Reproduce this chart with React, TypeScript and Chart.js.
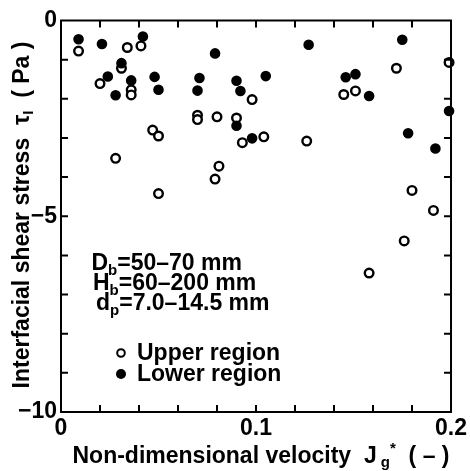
import React, { useEffect, useRef } from "react";
import { Chart, registerables } from "chart.js";

Chart.register(...registerables);

// Upper region (open circles)
const upperX = [0.009, 0.034, 0.041, 0.031, 0.020, 0.036, 0.036, 0.047, 0.050, 0.028, 0.050, 0.098, 0.070, 0.070, 0.080, 0.090, 0.093, 0.104, 0.126, 0.081, 0.079, 0.172, 0.199, 0.145, 0.151, 0.180, 0.191, 0.176, 0.158];
const upperY = [-0.78, -0.69, -0.65, -1.22, -1.61, -1.77, -1.90, -2.80, -2.95, -3.52, -4.42, -2.02, -2.42, -2.53, -2.46, -2.49, -3.12, -2.97, -3.08, -3.72, -4.05, -1.22, -1.07, -1.89, -1.80, -4.34, -4.85, -5.63, -6.45];

// Lower region (filled circles)
const lowerX = [0.009, 0.021, 0.042, 0.031, 0.024, 0.036, 0.028, 0.048, 0.050, 0.079, 0.127, 0.071, 0.070, 0.090, 0.092, 0.105, 0.090, 0.098, 0.175, 0.146, 0.151, 0.158, 0.199, 0.178, 0.192];
const lowerY = [-0.48, -0.60, -0.41, -1.09, -1.43, -1.53, -1.91, -1.44, -1.77, -0.84, -0.62, -1.47, -1.79, -1.54, -1.80, -1.42, -2.69, -3.01, -0.49, -1.45, -1.37, -1.93, -2.31, -2.88, -3.27];

const xTickLabels = [0, 0.1, 0.2];
const yTickLabels = [0, -5, -10];
const xMinorTicks = [0.02, 0.04, 0.06, 0.08, 0.1, 0.12, 0.14, 0.16, 0.18];
const yMinorTicks = [-1, -2, -3, -4, -5, -6, -7, -8, -9];

const legendLabels = ["Upper region", "Lower region"];
const FONT = '"Liberation Sans", Arial, Helvetica, sans-serif';

type Piece = { t: string; size: number; dy: number };

function drawPieces(ctx: CanvasRenderingContext2D, pieces: Piece[], x: number, y: number) {
  let cx = x;
  for (const p of pieces) {
    ctx.font = `bold ${p.size}px ${FONT}`;
    ctx.fillText(p.t, cx, y + p.dy);
    cx += ctx.measureText(p.t).width;
  }
  return cx;
}
function piecesWidth(ctx: CanvasRenderingContext2D, pieces: Piece[]) {
  let w = 0;
  for (const p of pieces) {
    ctx.font = `bold ${p.size}px ${FONT}`;
    w += ctx.measureText(p.t).width;
  }
  return w;
}

const decorPlugin = {
  id: "decor",
  afterDraw(chart: any) {
    const ctx: CanvasRenderingContext2D = chart.ctx;
    const { left, top, right, bottom } = chart.chartArea;
    const xs = chart.scales.x;
    const ys = chart.scales.y;
    ctx.save();
    ctx.strokeStyle = "#000";
    ctx.lineWidth = 2;
    ctx.strokeRect(left, top, right - left, bottom - top);
    const tl = 7;
    ctx.beginPath();
    for (const v of xMinorTicks) {
      const px = xs.getPixelForValue(v);
      ctx.moveTo(px, bottom);
      ctx.lineTo(px, bottom - tl);
      ctx.moveTo(px, top);
      ctx.lineTo(px, top + tl);
    }
    for (const v of yMinorTicks) {
      const py = ys.getPixelForValue(v);
      ctx.moveTo(left, py);
      ctx.lineTo(left + tl, py);
      ctx.moveTo(right, py);
      ctx.lineTo(right - tl, py);
    }
    ctx.stroke();

    ctx.fillStyle = "#000";
    ctx.textBaseline = "alphabetic";
    ctx.textAlign = "left";

    // Y title
    const yPieces: Piece[] = [
      { t: "Interfacial shear stress  \u03C4", size: 23, dy: 0 },
      { t: "I", size: 15, dy: 4 },
      { t: "  ( Pa )", size: 23, dy: 0 },
    ];
    ctx.save();
    ctx.translate(29, 215);
    ctx.rotate(-Math.PI / 2);
    const yw = piecesWidth(ctx, yPieces);
    drawPieces(ctx, yPieces, -yw / 2, 0);
    ctx.restore();

    // X title
    const xPieces: Piece[] = [
      { t: "Non-dimensional velocity  J", size: 23, dy: 0 },
      { t: " g", size: 15, dy: 4 },
      { t: "*", size: 15, dy: -10 },
      { t: "  ( \u2013 )", size: 23, dy: 0 },
    ];
    const xw = piecesWidth(ctx, xPieces);
    drawPieces(ctx, xPieces, 261 - xw / 2, 463);

    // Annotation
    drawPieces(ctx, [
      { t: "D", size: 23, dy: 0 },
      { t: "b", size: 15, dy: 5 },
      { t: "=50\u201370 mm", size: 23, dy: 0 },
    ], 91.5, 270);
    drawPieces(ctx, [
      { t: "H", size: 23, dy: 0 },
      { t: "b", size: 15, dy: 5 },
      { t: "=60\u2013200 mm", size: 23, dy: 0 },
    ], 93, 290);
    drawPieces(ctx, [
      { t: "d", size: 23, dy: 0 },
      { t: "p", size: 15, dy: 5 },
      { t: "=7.0\u201314.5 mm", size: 23, dy: 0 },
    ], 96, 310);

    // Legend
    ctx.lineWidth = 2;
    ctx.beginPath();
    ctx.arc(121, 353, 3.8, 0, Math.PI * 2);
    ctx.stroke();
    ctx.beginPath();
    ctx.arc(121, 374, 5, 0, Math.PI * 2);
    ctx.fill();
    ctx.font = `bold 23px ${FONT}`;
    ctx.fillText(legendLabels[0], 137, 360);
    ctx.fillText(legendLabels[1], 137, 381);
    ctx.restore();
  },
};

export default function App() {
  const ref = useRef<HTMLCanvasElement | null>(null);
  useEffect(() => {
    if (!ref.current) return;
    const chart = new Chart(ref.current, {
      type: "scatter",
      data: {
        datasets: [
          {
            label: legendLabels[1],
            data: lowerX.map((x, i) => ({ x, y: lowerY[i] })),
            pointRadius: 4.3,
            pointBorderWidth: 2,
            pointBackgroundColor: "#000",
            pointBorderColor: "#000",
            clip: false as any,
          },
          {
            label: legendLabels[0],
            data: upperX.map((x, i) => ({ x, y: upperY[i] })),
            pointRadius: 4.3,
            pointBorderWidth: 2.4,
            pointBackgroundColor: "#fff",
            pointBorderColor: "#000",
            clip: false as any,
          },
        ],
      },
      options: {
        responsive: false,
        animation: false,
        devicePixelRatio: 1,
        layout: { padding: { top: 20.5, right: 17, left: 0, bottom: 0 } },
        plugins: { legend: { display: false }, tooltip: { enabled: false }, title: { display: false } },
        scales: {
          x: {
            type: "linear",
            min: 0,
            max: 0.2,
            afterFit: (s: any) => { s.height = 59; },
            afterBuildTicks: (s: any) => { s.ticks = xTickLabels.map((v) => ({ value: v })); },
            grid: { display: false, drawTicks: false },
            border: { display: false },
            ticks: {
              autoSkip: false,
              maxRotation: 0,
              padding: 3,
              color: "#000",
              font: { family: FONT, size: 23, weight: "bold" },
              callback: (v: any) => (Math.abs(v) < 1e-9 ? "0" : String(Math.round(v * 10) / 10)),
            },
          },
          y: {
            type: "linear",
            min: -10,
            max: 0,
            afterFit: (s: any) => { s.width = 61; },
            afterBuildTicks: (s: any) => { s.ticks = yTickLabels.map((v) => ({ value: v })); },
            grid: { display: false, drawTicks: false },
            border: { display: false },
            ticks: {
              autoSkip: false,
              padding: 4,
              color: "#000",
              font: { family: FONT, size: 23, weight: "bold" },
              callback: (v: any) => (v < 0 ? "\u2212" + Math.abs(v) : String(v)),
            },
          },
        },
      },
      plugins: [decorPlugin],
    });
    return () => chart.destroy();
  }, []);
  return (
    <div style={{ position: "fixed", left: 0, top: 0, width: 470, height: 471, background: "#fff" }}>
      <canvas ref={ref} width={470} height={471} style={{ width: 470, height: 471 }} />
    </div>
  );
}
